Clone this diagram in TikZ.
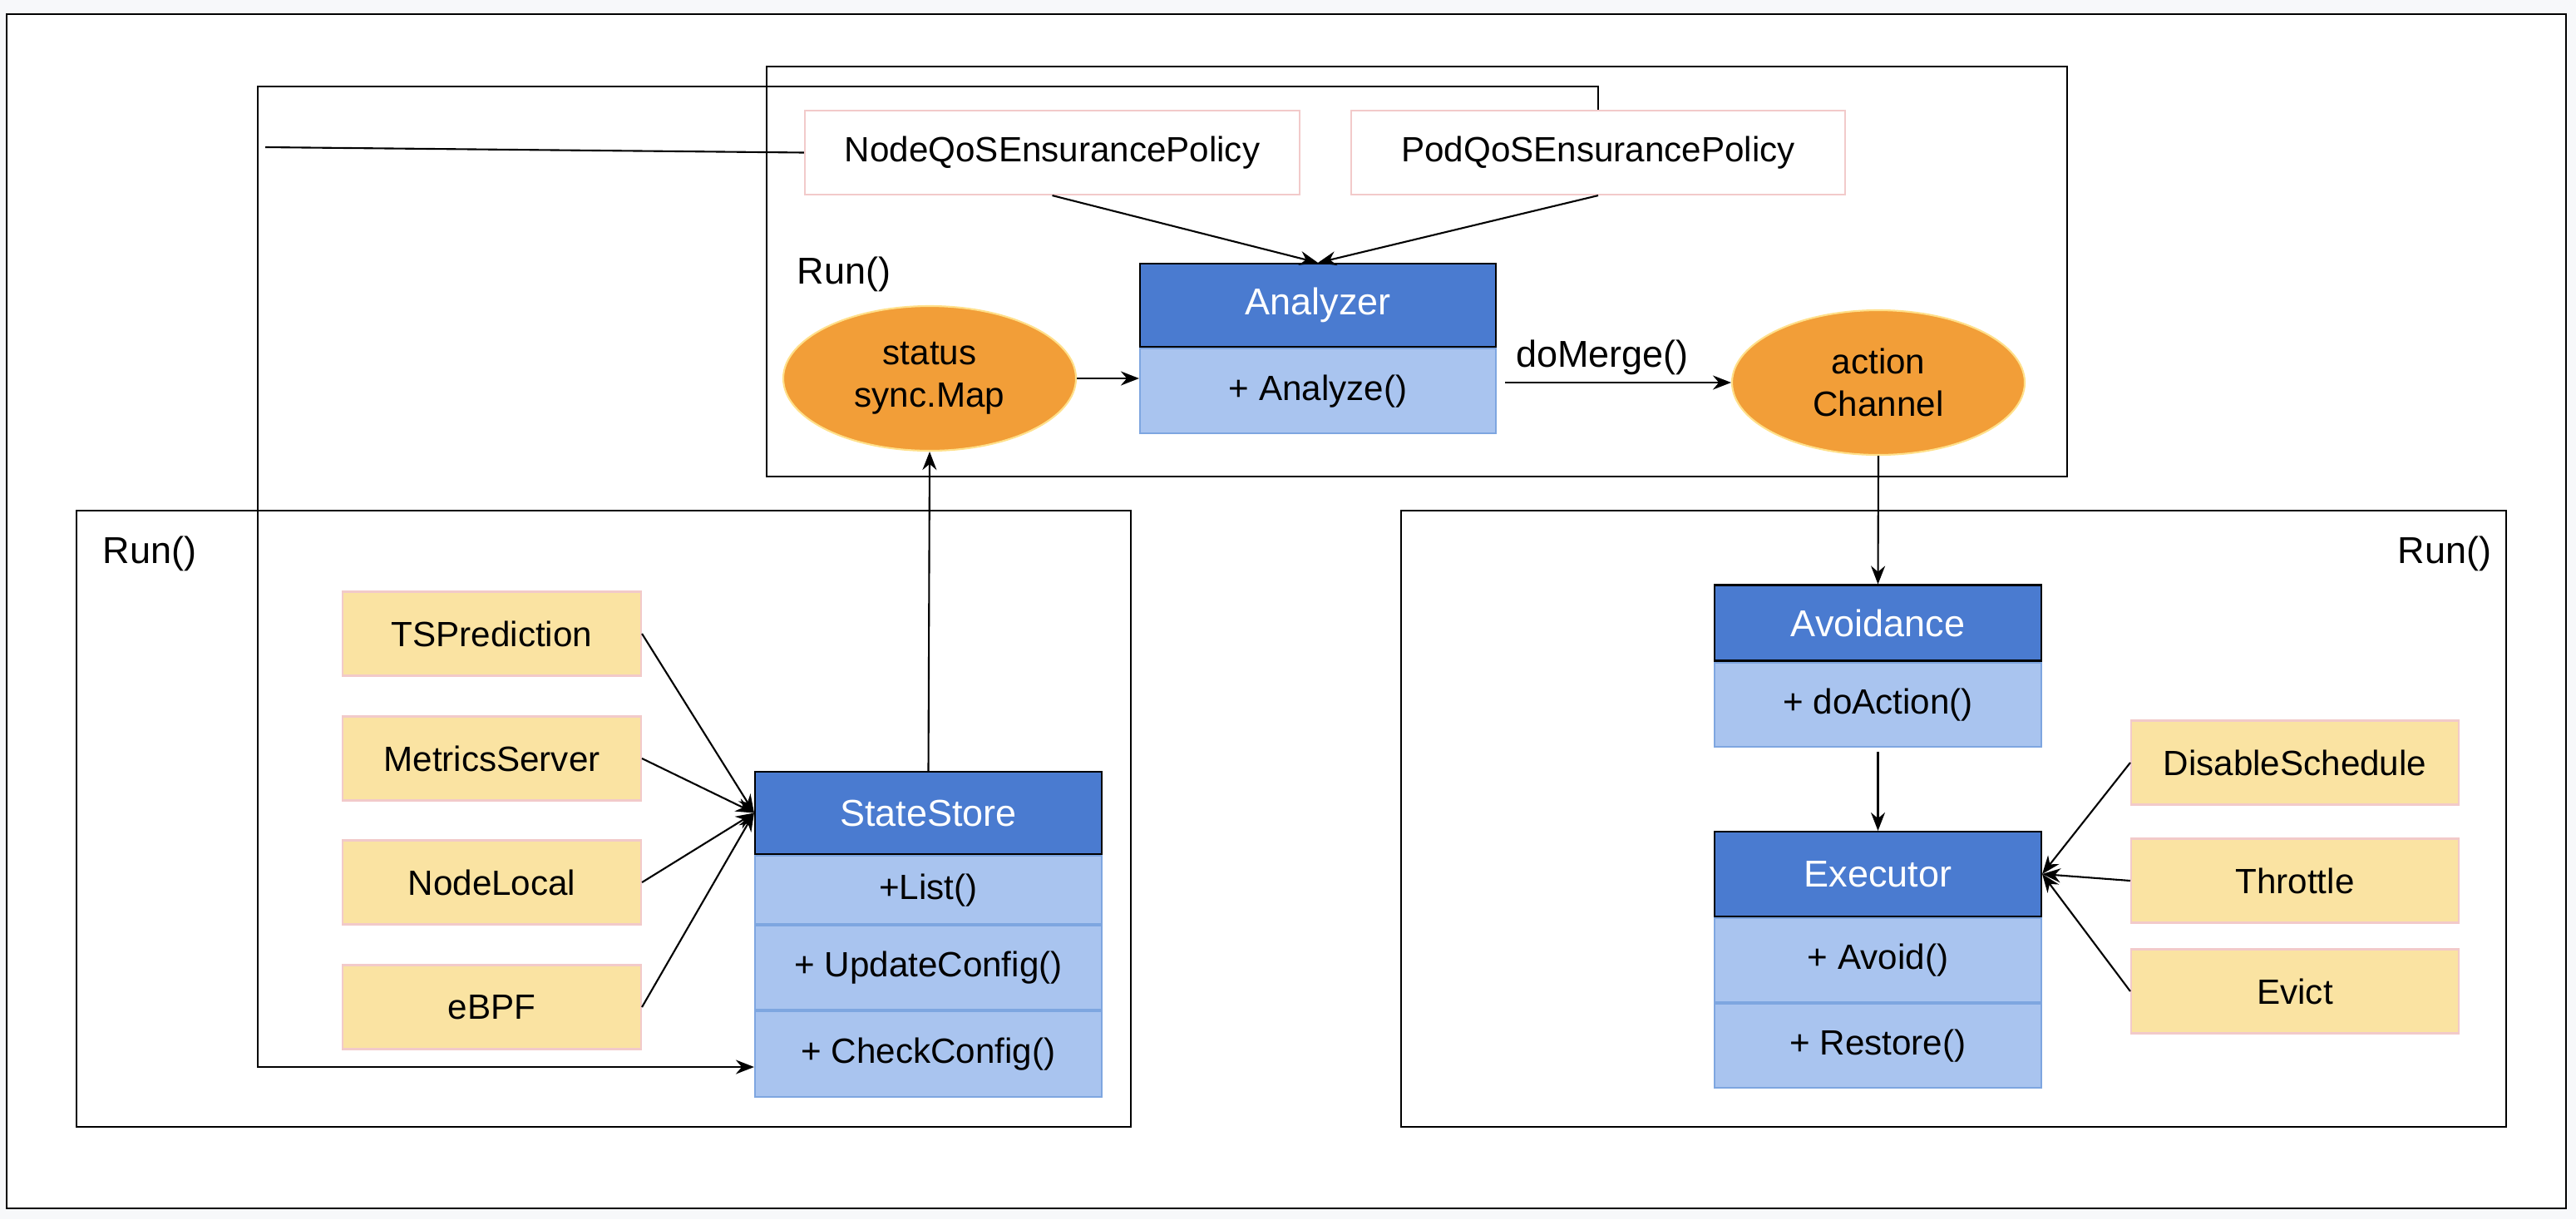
\documentclass[tikz,border=0pt]{standalone}
\usepackage{fontspec}
\setmainfont{Liberation Sans}
\usepackage{xcolor}
\usepackage{tikz}
\usetikzlibrary{positioning,shapes.geometric,arrows.meta}

\definecolor{hdrblue}{HTML}{4A7BD0}
\definecolor{rowblue}{HTML}{A9C4EF}
\definecolor{rowline}{HTML}{7EA6E0}
\definecolor{srcyellow}{HTML}{FAE3A2}
\definecolor{srcpink}{HTML}{F2CACA}
\definecolor{chanorange}{HTML}{F29E38}
\definecolor{chanrim}{HTML}{FFE08A}
\definecolor{pagegray}{HTML}{F7F8FA}

\tikzset{
  lbl/.style={font=\fontsize{12}{14.5}\selectfont},
  big/.style={font=\fontsize{12.8}{15}\selectfont},
  hdr/.style={big, draw=black, line width=0.6pt, fill=hdrblue, text=white, inner sep=0pt},
  row/.style={lbl, draw=rowline, line width=0.6pt, fill=rowblue, inner sep=0pt},
  src/.style={lbl, draw=srcpink, line width=0.6pt, fill=srcyellow, inner sep=0pt, minimum height=1.01cm},
  policy/.style={lbl, draw=srcpink, line width=0.6pt, fill=white, inner sep=0pt, minimum height=1.01cm},
  chan/.style={lbl, ellipse, draw=chanrim, line width=0.6pt, fill=chanorange, align=center, inner sep=0pt,
    minimum width=3.52cm, minimum height=1.74cm},
  frame/.style={draw=black, line width=0.8pt},
  flow/.style={draw=black, line width=0.6pt, -{Stealth[length=2.2mm, width=1.7mm]}},
}

\begin{document}
\begin{tikzpicture}[scale=1]
\useasboundingbox (0,0) rectangle (30.98,-14.66);
\fill[pagegray] (0,0) rectangle (30.98,-14.66);
\draw[frame, fill=white] (0.08,-0.17) rectangle (30.86,-14.53);

% the three Run() loops
\draw[frame] (9.22,-0.80) rectangle (24.86,-5.73);
\draw[frame] (0.92,-6.14) rectangle (13.60,-13.55);
\draw[frame] (16.85,-6.14) rectangle (30.14,-13.55);
\node[big] (runtop) at (10.15,-3.30) {Run()};
\node[big] (runleft) at (1.80,-6.66) {Run()};
\node[big] (runright) at (29.40,-6.66) {Run()};

% policies
\node[policy, minimum width=5.95cm] (nodepol) at (12.655,-1.835) {NodeQoSEnsurancePolicy};
\node[policy, minimum width=5.94cm] (podpol) at (19.22,-1.835) {PodQoSEnsurancePolicy};

% analyzer
\node[hdr, minimum width=4.28cm, minimum height=1.0cm] (anl) at (15.85,-3.67) {Analyzer};
\node[row, minimum width=4.28cm, minimum height=1.02cm, below=0pt of anl] (anlfn) {+ Analyze()};

\node[chan] (status) at (11.18,-4.55) {status\\sync.Map};
\node[chan] (action) at (22.59,-4.60) {action\\Channel};
\node[big] (merge) at (19.27,-4.30) {doMerge()};

% state store
\node[hdr, minimum width=4.17cm, minimum height=0.99cm] (ss) at (11.165,-9.775) {StateStore};
\node[row, minimum width=4.17cm, minimum height=0.82cm, below=0pt of ss] (sslist) {+List()};
\node[row, minimum width=4.17cm, minimum height=1.01cm, below=0pt of sslist] (ssupd) {+ UpdateConfig()};
\node[row, minimum width=4.17cm, minimum height=1.03cm, below=0pt of ssupd] (sschk) {+ CheckConfig()};

\node[src, minimum width=3.59cm] (tsp) at (5.915,-7.62) {TSPrediction};
\node[src, minimum width=3.59cm] (mts) at (5.915,-9.12) {MetricsServer};
\node[src, minimum width=3.59cm] (nlc) at (5.915,-10.61) {NodeLocal};
\node[src, minimum width=3.59cm] (ebpf) at (5.915,-12.11) {eBPF};

% avoidance and executor
\node[hdr, minimum width=3.93cm, minimum height=0.91cm] (avd) at (22.585,-7.49) {Avoidance};
\node[row, minimum width=3.93cm, minimum height=1.01cm, below=0pt of avd] (avdfn) {+ doAction()};
\node[hdr, minimum width=3.93cm, minimum height=1.02cm] (exe) at (22.585,-10.51) {Executor};
\node[row, minimum width=3.93cm, minimum height=1.01cm, below=0pt of exe] (exeavd) {+ Avoid()};
\node[row, minimum width=3.93cm, minimum height=1.01cm, below=0pt of exeavd] (exerst) {+ Restore()};

\node[src, minimum width=3.94cm] (dis) at (27.60,-9.17) {DisableSchedule};
\node[src, minimum width=3.94cm] (thr) at (27.60,-10.59) {Throttle};
\node[src, minimum width=3.94cm] (evc) at (27.60,-11.92) {Evict};

% connectors
\draw[flow] (nodepol.south) -- (anl.north);
\draw[flow] (podpol.south) -- (anl.north);
\draw[flow] (status.east) -- (status.east -| anlfn.west);
\draw[flow] ([xshift=1mm]anlfn.east |- action.west) -- (action.west);
\draw[flow] (ss.north) -- (status.south);
\foreach \s in {tsp,mts,nlc,ebpf}
  \draw[flow] (\s.east) -- (ss.west);

\coordinate (looptop) at (3.10,-1.04);
\coordinate (loopbot) at (3.10,-12.83);
\coordinate (nodeend) at (3.19,-1.77);
\draw[flow] (podpol.north) |- (looptop) -- (loopbot) -- (loopbot -| sschk.west);
\draw[line width=0.6pt] (nodepol.west) -- (nodeend);

\draw[flow] (action.south) -- (avd.north);
\draw[flow] ([yshift=-0.5mm]avdfn.south) -- (exe.north);
\foreach \s in {dis,thr,evc}
  \draw[flow] (\s.west) -- (exe.east);
\end{tikzpicture}
\end{document}
